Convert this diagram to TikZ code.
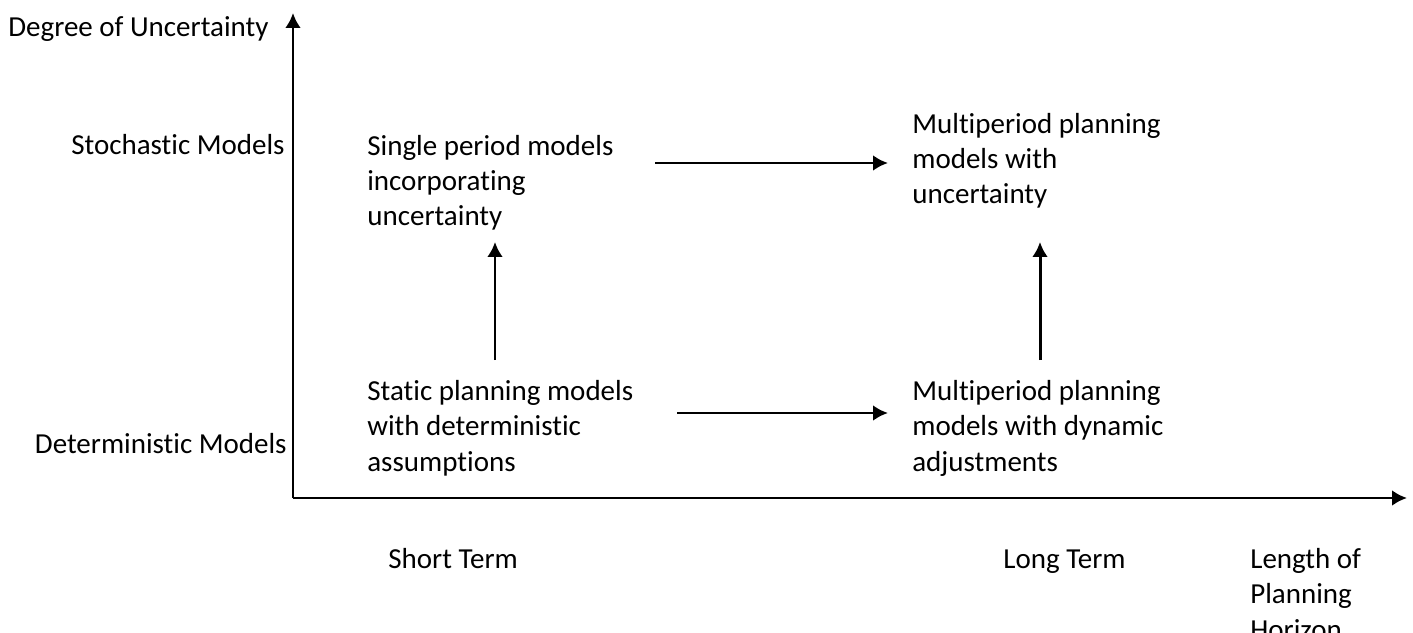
\documentclass[tikz,border=0pt]{standalone}
\usepackage{fontspec}
\setmainfont[Ligatures=CommonOff]{Carlito}
\usepackage{tikz}
\usetikzlibrary{arrows.meta}
\tikzset{>={Latex[length=8.5pt,width=9pt]}}
\tikzset{
    axis/.style={line width=1.7pt, ->},
    link/.style={line width=1.7pt, ->},
    lbl/.style={inner sep=0pt, font=\fontsize{16.5}{20.2}\selectfont, align=left},
}

\begin{document}
\begin{tikzpicture}
    \useasboundingbox(-5.86, -2.68) rectangle (22.40, 9.96);
    % axes
    \coordinate (O) at (0, 0);
    \coordinate (ytip) at (0, 9.70);
    \coordinate (xtip) at (22.28, 0);
    \draw[axis](O)--(ytip);
    \draw[axis](O)--(xtip);
    \node[lbl, anchor=base west](yname)at(-5.70, 9.22){Degree of Uncertainty};
    \node[lbl, anchor=base east](stoch)at(-0.16, 6.86){Stochastic Models};
    \node[lbl, anchor=base east](determ)at(-0.12, 0.90){Deterministic Models};
    \node[lbl, anchor=base west](short)at(1.90, -1.40){Short Term};
    \node[lbl, anchor=base west](long)at(14.20, -1.40){Long Term};
    % base of a multi-line node is its last line
    \node[lbl, anchor=base west](xname)at(19.14, -2.82){Length of\\Planning\\Horizon};
    % model classes
    \node[lbl, anchor=base west](single)at(1.48, 5.44){Single period models\\incorporating\\uncertainty};
    \node[lbl, anchor=base west](multiunc)at(12.38, 5.88){Multiperiod planning\\models with\\uncertainty};
    \node[lbl, anchor=base west](static)at(1.48, 0.54){Static planning models\\with deterministic\\assumptions};
    \node[lbl, anchor=base west](multidyn)at(12.38, 0.54){Multiperiod planning\\models with dynamic\\adjustments};
    % transitions
    \coordinate (a1) at (7.24, 6.70);
    \coordinate (a2) at (11.90, 6.70);
    \coordinate (b1) at (7.68, 1.70);
    \coordinate (b2) at (11.90, 1.70);
    \coordinate (c1) at (4.04, 2.76);
    \coordinate (c2) at (4.04, 5.12);
    \coordinate (d1) at (14.94, 2.76);
    \coordinate (d2) at (14.94, 5.12);
    \draw[link](a1)--(a2);
    \draw[link](b1)--(b2);
    \draw[link](c1)--(c2);
    \draw[link](d1)--(d2);
\end{tikzpicture}
\end{document}
